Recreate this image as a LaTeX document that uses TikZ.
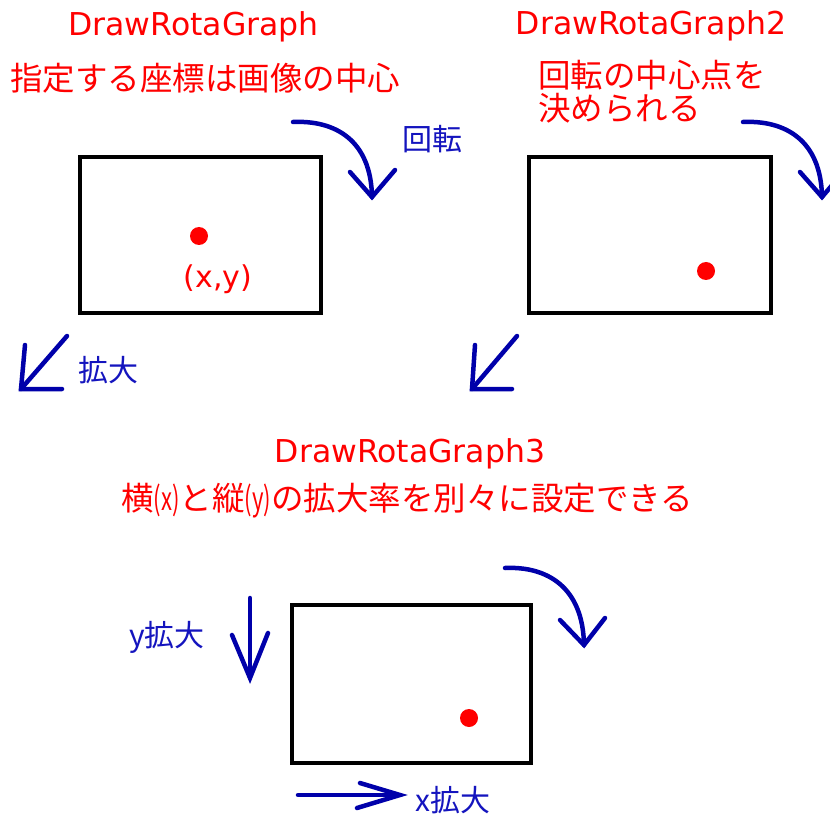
\documentclass[tikz,border=0pt]{standalone}
\usepackage{fontspec}
\setmainfont{Noto Sans CJK JP}
\newfontfamily\latinfont{DejaVu Sans}
\definecolor{myred}{RGB}{255,0,0}
\definecolor{myblue}{RGB}{0,0,170}
\definecolor{txtblue}{RGB}{20,20,190}
\begin{document}
\begin{tikzpicture}[x=1pt,y=-1pt,
  title/.style={text=myred, font=\latinfont\fontsize{31.5}{34}\selectfont, inner sep=0, anchor=base},
  jtext/.style={text=myred, font=\fontsize{32.5}{33}\selectfont, inner sep=0, anchor=base},
  bluetext/.style={text=txtblue, font=\fontsize{30}{32}\selectfont, inner sep=0, anchor=base},
  frame/.style={draw=black, line width=4pt, inner sep=0},
  dot/.style={circle, fill=myred, minimum size=18pt, inner sep=0},
  arr/.style={draw=myblue, line width=4.5pt, line cap=round},
]
\useasboundingbox (0,0) rectangle (830,818);

% titles and subtitles
\node[title] (t1) at (193.5,36) {DrawRotaGraph};
\node[jtext] (s1) at (205,91) {指定する座標は画像の中心};
\node[title] (t2) at (651,35) {DrawRotaGraph2};
\node[jtext, anchor=base west] (s2a) at (538,88) {回転の中心点を};
\node[jtext, anchor=base west] (s2b) at (538,121) {決められる};
\node[title] (t3) at (410,462) {DrawRotaGraph3};
\node[jtext] (s3) at (407,510) {横\scalebox{0.68}[1]{(x)}と縦\scalebox{0.68}[1]{(y)}の拡大率を別々に設定できる};

% frames
\node[frame, minimum width=241pt, minimum height=156pt] (r1) at (200.5,235) {};
\node[frame, minimum width=242pt, minimum height=156pt] (r2) at (650,235) {};
\node[frame, minimum width=239pt, minimum height=158pt] (r3) at (411.5,684) {};

% dots
\node[dot] (d1) at (199,236) {};
\node[dot] (d2) at (706,271) {};
\node[dot] (d3) at (469,718) {};
\node[text=myred, font=\latinfont\fontsize{30}{32}\selectfont, inner sep=0, anchor=base] (xy) at (218,288) {(x,y)};

% rotation arrows
\coordinate (a1s) at (293,122);
\coordinate (a1t) at (372,197);
\draw[arr] (a1s) .. controls (335,120) and (371,140) .. (a1t);
\draw[arr] (a1t) ++(-22,-25) -- (a1t) -- ++(23,-27);
\node[bluetext] (rot) at (432,151) {回転};

\coordinate (a2s) at (743,122);
\coordinate (a2t) at (822,197);
\draw[arr] (a2s) .. controls (785,120) and (821,140) .. (a2t);
\draw[arr] (a2t) ++(-22,-25) -- (a2t) -- ++(23,-27);

\coordinate (a3s) at (505,568);
\coordinate (a3t) at (584,645);
\draw[arr] (a3s) .. controls (547,566) and (583,587) .. (a3t);
\draw[arr] (a3t) ++(-24,-25) -- (a3t) -- ++(21,-27);

% scale arrows
\coordinate (s1s) at (67,336);
\coordinate (s1t) at (21,389);
\draw[arr] (s1s) -- (s1t);
\draw[arr] (s1t) ++(4,-44) -- (s1t) -- ++(41,0);
\node[bluetext] (ex1) at (108,381) {拡大};

\coordinate (s2s) at (517,336);
\coordinate (s2t) at (472,389);
\draw[arr] (s2s) -- (s2t);
\draw[arr] (s2t) ++(3,-44) -- (s2t) -- ++(40,0);

\coordinate (ys) at (250,598);
\coordinate (yt) at (250,678);
\draw[arr] (ys) -- (yt);
\draw[arr] (yt) ++(-18,-43) -- (yt) -- ++(18,-45);
\node[bluetext] (ylab) at (167,646) {y拡大};

\coordinate (xs) at (298,795);
\coordinate (xt) at (400,795);
\draw[arr] (xs) -- (xt);
\draw[arr] (xt) ++(-40,-12) -- (xt) -- ++(-43,13);
\node[bluetext] (xlab) at (453,811) {x拡大};
\end{tikzpicture}
\end{document}
